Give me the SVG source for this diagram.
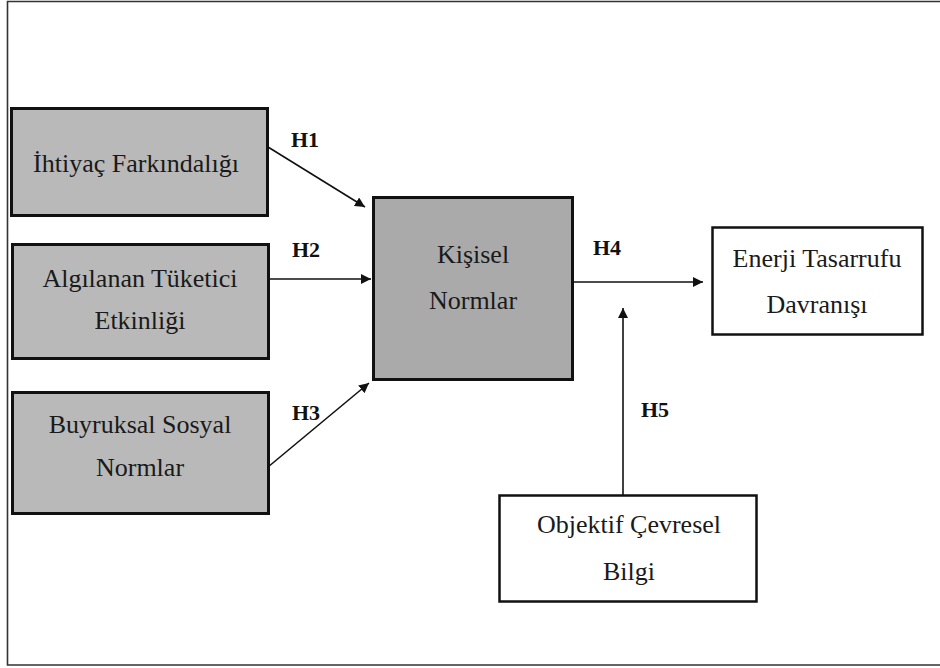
<svg xmlns="http://www.w3.org/2000/svg" width="940" height="668" viewBox="0 0 940 668">
<defs>
<style>
.box{stroke:#111;stroke-width:3}
.gray{fill:#b9b9b9}
.dark{fill:#aaaaaa}
.white{fill:#fff;stroke-width:2.5}
.t{font-size:26px;fill:#1a1a1a;text-anchor:middle}
.h{font-size:22px;font-weight:bold;fill:#111}
.c{stroke:#111;stroke-width:1.6;fill:none;marker-end:url(#ah)}
</style>
<marker id="ah" viewBox="0 0 10 10" refX="10" refY="5" markerWidth="10" markerHeight="10" markerUnits="userSpaceOnUse" orient="auto">
<path d="M0,0 L10,5 L0,10 z" fill="#111"/>
</marker>
</defs>
<rect width="940" height="668" fill="#fff"/>
<path d="M940,1.5 H7.5 V665 H940" fill="none" stroke="#333" stroke-width="1.6"/>
<g font-family="Liberation Serif, Tinos, DejaVu Serif, Times New Roman, serif">
<g id="connectors">
<line class="c" x1="268" y1="147" x2="365" y2="207"/>
<line class="c" x1="268" y1="279" x2="371" y2="279"/>
<line class="c" x1="268" y1="467" x2="369" y2="383"/>
<line class="c" x1="572" y1="282" x2="703" y2="282"/>
<line class="c" x1="623" y1="495" x2="623" y2="308"/>
<text class="h" x="291" y="147">H1</text>
<text class="h" x="292" y="257">H2</text>
<text class="h" x="292" y="420">H3</text>
<text class="h" x="593" y="255">H4</text>
<text class="h" x="641" y="417">H5</text>
</g>
<g id="ihtiyac">
<rect class="box gray" x="11.5" y="108.5" width="256" height="107"/>
<text class="t" x="136" y="172">İhtiyaç Farkındalığı</text>
</g>
<g id="algilanan">
<rect class="box gray" x="12.5" y="244.5" width="256" height="114"/>
<text class="t" x="140" y="287">Algılanan Tüketici</text>
<text class="t" x="140" y="329">Etkinliği</text>
</g>
<g id="buyruksal">
<rect class="box gray" x="12.5" y="392.5" width="256" height="121"/>
<text class="t" x="140" y="433">Buyruksal Sosyal</text>
<text class="t" x="140" y="476">Normlar</text>
</g>
<g id="kisisel">
<rect class="box dark" x="373.5" y="197.5" width="199" height="182"/>
<text class="t" x="473" y="263">Kişisel</text>
<text class="t" x="473" y="309">Normlar</text>
</g>
<g id="enerji">
<rect class="box white" x="712.5" y="227.5" width="210" height="107"/>
<text class="t" x="817" y="267">Enerji Tasarrufu</text>
<text class="t" x="817" y="313">Davranışı</text>
</g>
<g id="objektif">
<rect class="box white" x="499.5" y="495.5" width="257" height="106"/>
<text class="t" x="629" y="533">Objektif Çevresel</text>
<text class="t" x="629" y="580">Bilgi</text>
</g>
</g>
</svg>
